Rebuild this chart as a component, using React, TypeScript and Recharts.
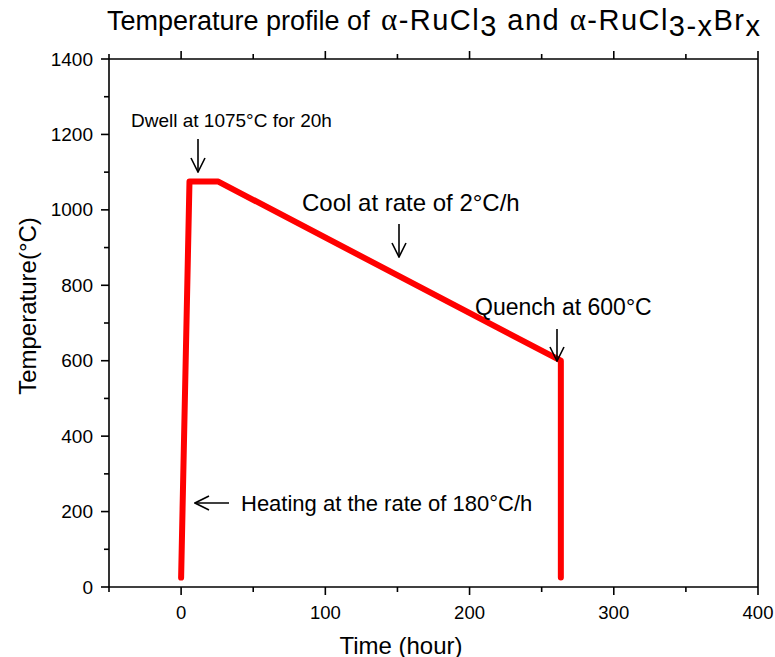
import { LineChart, Line, XAxis, YAxis } from "recharts";

// temperature profile: heat, dwell 20h, cool 2°C/h, quench
const timeHours = [0, 5.8, 25.8, 263.3, 263.3];
const tempC = [25, 1075, 1075, 600, 25];

const xTicks = [-50, 0, 50, 100, 150, 200, 250, 300, 350, 400];
const xLabels = [0, 100, 200, 300, 400];
const yTicks = [0, 100, 200, 300, 400, 500, 600, 700, 800, 900, 1000, 1100, 1200, 1300, 1400];
const yLabels = [0, 200, 400, 600, 800, 1000, 1200, 1400];

const W = 775;
const H = 657;
const FONT = "'Liberation Sans', Arial, sans-serif";
const SERIF = "'Liberation Serif', 'Times New Roman', serif";

const data = timeHours.map((t, i) => ({ t, T: tempC[i] }));

function makeTick(side: "bottom" | "top" | "left" | "right", labels: number[]) {
  return (props: any) => {
    const { x, y, payload } = props;
    const v = payload.value;
    const major = labels.includes(v);
    const len = major ? 8 : 5;
    const dx = side === "left" ? -len : side === "right" ? len : 0;
    const dy = side === "bottom" ? len : side === "top" ? -len : 0;
    return (
      <g>
        <line x1={x} y1={y} x2={x + dx} y2={y + dy} stroke="#000" strokeWidth={1.6} />
        {major && side === "bottom" && (
          <text x={x} y={y + 25} textAnchor="middle" dominantBaseline="central" fontSize={18.5} fontFamily={FONT} fill="#000">
            {v}
          </text>
        )}
        {major && side === "left" && (
          <text x={x - 16} y={y} textAnchor="end" dominantBaseline="central" fontSize={19} fontFamily={FONT} fill="#000">
            {v}
          </text>
        )}
      </g>
    );
  };
}

const axisStyle = { stroke: "#000", strokeWidth: 1.6 };

export default function App() {
  return (
    <div style={{ position: "fixed", left: 0, top: 0, width: W, height: H, background: "#fff" }}>
      <LineChart width={W} height={H} data={data} margin={{ top: 58, right: 16, bottom: 69, left: 108 }}>
        <XAxis xAxisId="b" dataKey="t" type="number" domain={[-50, 400]} ticks={xTicks} interval={0}
          orientation="bottom" height={1} tickSize={0} tickMargin={0} tickLine={false} axisLine={axisStyle}
          tick={makeTick("bottom", xLabels)} />
        <XAxis xAxisId="t" dataKey="t" type="number" domain={[-50, 400]} ticks={xTicks} interval={0}
          orientation="top" height={1} tickSize={0} tickMargin={0} tickLine={false} axisLine={axisStyle}
          tick={makeTick("top", xLabels)} />
        <YAxis yAxisId="l" type="number" domain={[0, 1400]} ticks={yTicks} interval={0}
          orientation="left" width={1} tickSize={0} tickMargin={0} tickLine={false} axisLine={axisStyle}
          tick={makeTick("left", yLabels)} />
        <YAxis yAxisId="r" type="number" domain={[0, 1400]} ticks={yTicks} interval={0}
          orientation="right" width={1} tickSize={0} tickMargin={0} tickLine={false} axisLine={axisStyle}
          tick={makeTick("right", yLabels)} />
        <Line xAxisId="b" yAxisId="l" type="linear" dataKey="T" stroke="#ff0000" strokeWidth={6}
          strokeLinecap="round" strokeLinejoin="round" dot={false} isAnimationActive={false} />
      </LineChart>
      <svg width={W} height={H} style={{ position: "absolute", left: 0, top: 0, pointerEvents: "none" }}
        fontFamily={FONT} fill="#000">
        <defs>
          <marker id="ah" viewBox="0 0 16 16" refX="15" refY="8" markerWidth="16" markerHeight="16"
            markerUnits="userSpaceOnUse" orient="auto">
            <path d="M1,1 L15,8 L1,15" fill="none" stroke="#000" strokeWidth={1.6} />
          </marker>
        </defs>
        <text x={107} y={30} fontSize={27}>Temperature profile of</text>
        <text x={381} y={30} fontSize={29} textLength={379} lengthAdjust="spacing">
          <tspan fontFamily={SERIF} fontSize={31}>α</tspan>-RuCl<tspan dy={6}>3</tspan><tspan dy={-6}> and </tspan>
          <tspan fontFamily={SERIF} fontSize={31}>α</tspan>-RuCl<tspan dy={6}>3-x</tspan><tspan dy={-6}>Br</tspan>
          <tspan dy={6}>x</tspan>
        </text>
        <text x={401} y={645} textAnchor="middle" dominantBaseline="central" fontSize={24}>Time (hour)</text>
        <text x={27} y={306} textAnchor="middle" dominantBaseline="central" fontSize={24}
          transform="rotate(-90 27 306)">Temperature(°C)</text>

        <text x={131} y={120} dominantBaseline="central" fontSize={19}>Dwell at 1075°C for 20h</text>
        <line x1={198} y1={139} x2={198} y2={172} stroke="#000" strokeWidth={1.6} markerEnd="url(#ah)" />

        <text x={302} y={202} dominantBaseline="central" fontSize={24}>Cool at rate of 2°C/h</text>
        <line x1={399} y1={224} x2={399} y2={257} stroke="#000" strokeWidth={1.6} markerEnd="url(#ah)" />

        <text x={475} y={307} dominantBaseline="central" fontSize={23}>Quench at 600°C</text>
        <line x1={557} y1={329} x2={557} y2={361} stroke="#000" strokeWidth={1.6} markerEnd="url(#ah)" />

        <line x1={229} y1={503} x2={195} y2={503} stroke="#000" strokeWidth={1.6} markerEnd="url(#ah)" />
        <text x={241} y={503} dominantBaseline="central" fontSize={22}>Heating at the rate of 180°C/h</text>
      </svg>
    </div>
  );
}
